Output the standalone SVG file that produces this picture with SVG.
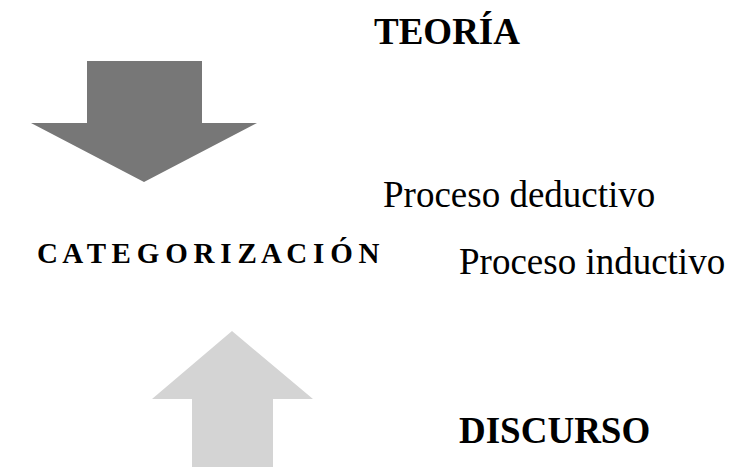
<svg xmlns="http://www.w3.org/2000/svg" width="729" height="467" viewBox="0 0 729 467">
<style>
.t{font-family:"Liberation Serif","Times New Roman",serif;fill:#000}
.b{font-weight:bold}
</style>
<rect width="729" height="467" fill="#fff"/>
<g id="arrow-down"><polygon points="87,61 202,61 202,123 257,123 144,182 31,123 87,123" fill="#777777"/></g>
<g id="arrow-up"><polygon points="232,331 313,399 273,399 273,467 192,467 192,399 152,399" fill="#d4d4d4"/></g>
<g id="teoria"><text class="t b" x="374" y="44" font-size="37">TEORÍA</text></g>
<g id="categorizacion"><text class="t b" x="37" y="263" font-size="29" letter-spacing="-0.7">C A T E G O R I Z A C I Ó N</text></g>
<g id="deductivo"><text class="t" x="383" y="207" font-size="37">Proceso deductivo</text></g>
<g id="inductivo"><text class="t" x="459" y="274" font-size="37">Proceso inductivo</text></g>
<g id="discurso"><text class="t b" x="459" y="443" font-size="37">DISCURSO</text></g>
<g id="connectors"></g>
</svg>
